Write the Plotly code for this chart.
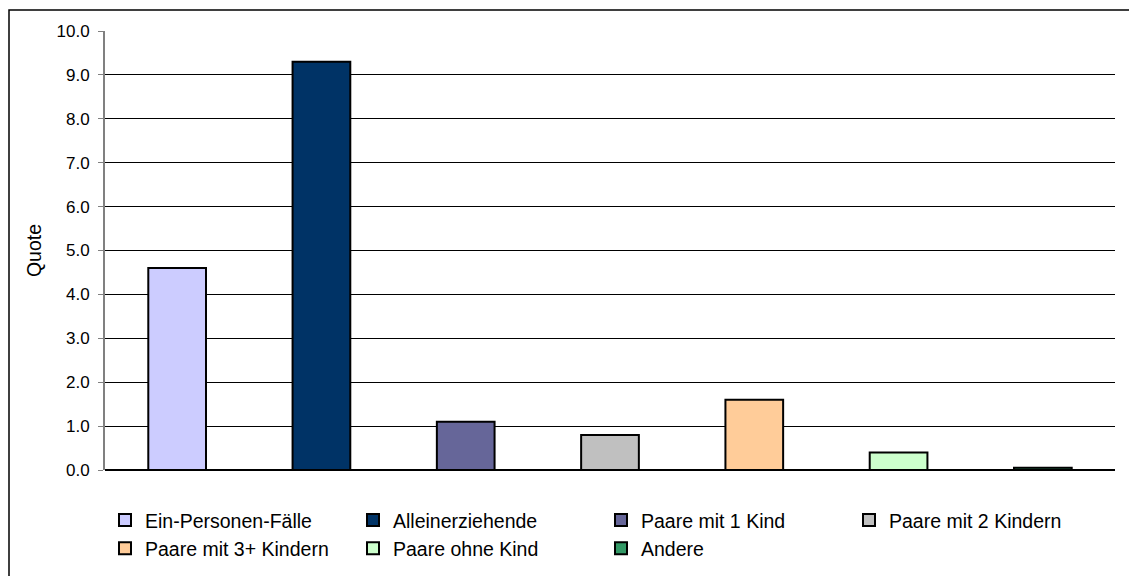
import plotly.graph_objects as go

categories = ['Ein-Personen-Fälle', 'Alleinerziehende', 'Paare mit 1 Kind', 'Paare mit 2 Kindern',
              'Paare mit 3+ Kindern', 'Paare ohne Kind', 'Andere']
values = [4.6, 9.3, 1.1, 0.8, 1.6, 0.4, 0.05]
colors = ['#CCCCFF', '#003366', '#666699', '#C0C0C0', '#FFCC99', '#CCFFCC', '#339966']
y_ticks = [0, 1, 2, 3, 4, 5, 6, 7, 8, 9, 10]

fig = go.Figure()
for cat, val, col in zip(categories, values, colors):
    fig.add_trace(go.Bar(x=[cat], y=[val], name=cat, width=0.4,
                         marker=dict(color=col, line=dict(color='black', width=2))))

# page body has an 8px margin, so the figure is shifted by 8px
fig.update_layout(
    width=1129, height=572,
    margin=dict(l=97, r=22, t=23, b=110),
    paper_bgcolor='white', plot_bgcolor='white',
    barmode='overlay', showlegend=True,
    font=dict(family='Liberation Sans, Arial, sans-serif', color='black', size=17),
    legend=dict(orientation='h', x=0, xanchor='left', y=-0.07, yanchor='top',
                entrywidth=203, entrywidthmode='pixels', traceorder='normal',
                font=dict(size=19.5), tracegroupgap=0),
    xaxis=dict(categoryorder='array', categoryarray=categories, showticklabels=False,
               showgrid=False, zeroline=False, showline=False, ticks=''),
    yaxis=dict(range=[0, 10], tickvals=y_ticks, tickformat='.1f', showgrid=True,
               gridcolor='black', gridwidth=1, zeroline=True, zerolinecolor='black',
               showline=True, linecolor='#808080', linewidth=2,
               ticks='outside', ticklen=5, tickcolor='#808080', ticklabelstandoff=5,
               title=dict(text='Quote', font=dict(size=19.5), standoff=10)),
    shapes=[dict(type='rect', xref='paper', yref='paper',
                 x0=(1 - 97) / 1010, x1=1.05, y0=-0.3, y1=1 + 21 / 439,
                 line=dict(color='black', width=1.5), fillcolor='rgba(0,0,0,0)')],
)

fig.write_html('out.html')
